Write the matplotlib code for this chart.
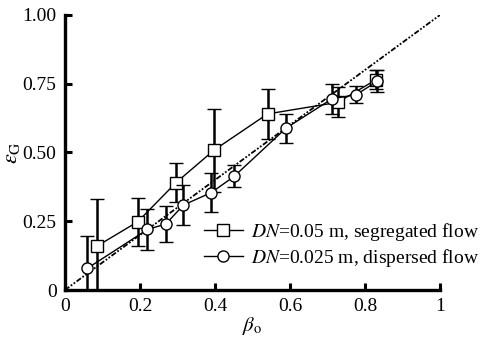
import numpy as np
from matplotlib import pyplot as plt

plt.rcParams['font.family'] = ['Liberation Serif', 'DejaVu Serif']
plt.rcParams['mathtext.fontset'] = 'stix'

# DN = 0.05 m, segregated flow (squares)
seg_x = [0.086, 0.194, 0.296, 0.397, 0.540, 0.727, 0.830]
seg_y = [0.160, 0.248, 0.390, 0.508, 0.640, 0.682, 0.765]
seg_err = [0.170, 0.088, 0.070, 0.150, 0.090, 0.055, 0.035]

# DN = 0.025 m, dispersed flow (circles)
disp_x = [0.060, 0.220, 0.269, 0.316, 0.390, 0.451, 0.589, 0.712, 0.776, 0.832]
disp_y = [0.079, 0.220, 0.240, 0.309, 0.354, 0.413, 0.588, 0.695, 0.710, 0.758]
disp_err = [0.117, 0.075, 0.064, 0.072, 0.070, 0.040, 0.052, 0.055, 0.030, 0.040]

diag = [0, 1]
xticks = [0, 0.2, 0.4, 0.6, 0.8, 1]
xtick_labels = ['0', '0.2', '0.4', '0.6', '0.8', '1']
yticks = [0, 0.25, 0.5, 0.75, 1.0]
ytick_labels = ['0', '0.25', '0.50', '0.75', '1.00']

fig = plt.figure(figsize=(4.88, 3.38), dpi=100)
ax = fig.add_axes([0.133, 0.142, 0.769, 0.814])

# y = x reference line
ax.plot(diag, diag, color='black', lw=1.3,
        linestyle=(0, (3, 1, 1, 1, 1, 1)), zorder=1)

ax.errorbar(seg_x, seg_y, yerr=seg_err, color='black', lw=1.0,
            elinewidth=1.8, capsize=5, capthick=1.8,
            marker='s', markersize=8, markerfacecolor='white',
            markeredgecolor='black', markeredgewidth=1.0,
            label=r'$DN$=0.05 m, segregated flow', zorder=3)
ax.errorbar(disp_x, disp_y, yerr=disp_err, color='black', lw=1.0,
            elinewidth=1.8, capsize=5, capthick=1.8,
            marker='o', markersize=8, markerfacecolor='white',
            markeredgecolor='black', markeredgewidth=1.0,
            label=r'$DN$=0.025 m, dispersed flow', zorder=4)

ax.set_xlim(0, 1)
ax.set_ylim(0, 1)
ax.set_xticks(xticks)
ax.set_xticklabels(xtick_labels)
ax.set_yticks(yticks)
ax.set_yticklabels(ytick_labels)
ax.tick_params(direction='in', length=5, width=2.2, labelsize=14, pad=6)

for side in ['top', 'right']:
    ax.spines[side].set_visible(False)
for side in ['left', 'bottom']:
    ax.spines[side].set_linewidth(2.4)

ax.set_xlabel(r'$\beta_\mathrm{o}$', fontsize=15, labelpad=0)
ax.set_ylabel(r'$\varepsilon_\mathrm{G}$', fontsize=16, labelpad=0)

handles, labels = ax.get_legend_handles_labels()
handles = [h[0] for h in handles]
ax.legend(handles, labels, loc='center left', bbox_to_anchor=(0.35, 0.165),
          frameon=False, fontsize=14, handlelength=2.0, handletextpad=0.4,
          labelspacing=0.2, borderaxespad=0)

plt.savefig('out.png', dpi=100)
